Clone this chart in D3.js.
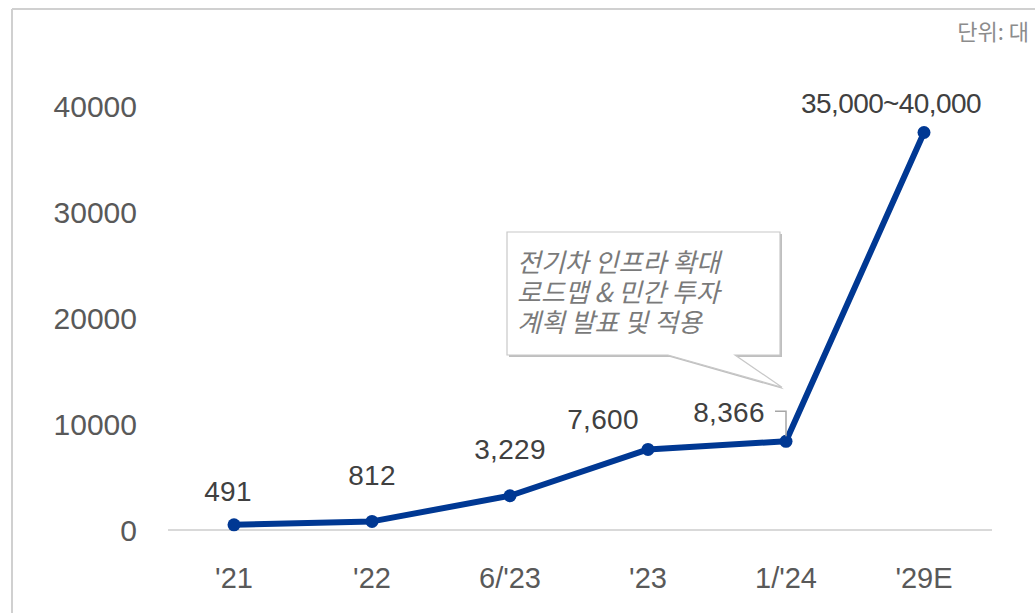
<!DOCTYPE html>
<html>
<head>
<meta charset="utf-8">
<script src="https://cdn.jsdelivr.net/npm/d3@7"></script>
<style>
  html, body { margin: 0; padding: 0; background: #fff; }
  svg { display: block; }
</style>
</head>
<body>
<svg id="chart" width="1035" height="613"></svg>
<script>
// Chart data
const categories = ["'21", "'22", "6/'23", "'23", "1/'24", "'29E"];
const values = [491, 812, 3229, 7600, 8366, 37500];
const valueLabels = ["491", "812", "3,229", "7,600", "8,366", "35,000~40,000"];
const yTicks = [0, 10000, 20000, 30000, 40000];
const unitText = "단위: 대";
const calloutLines = ["전기차 인프라 확대", "로드맵 & 민간 투자", "계획 발표 및 적용"];

// Label placement relative to each point: [dx, dy of baseline]
const labelOffsets = [[-6, -24], [0, -36], [0, -37], [-45, -20], [-57, -19], [-33, -20]];

const svg = d3.select("#chart");
const W = 1035, H = 613;
const font = "'Liberation Sans', Arial, sans-serif";
const krFont = "'Noto Sans CJK KR', 'Noto Sans', sans-serif";

const x = d3.scaleBand().domain(categories).range([165, 993]).padding(0);
const y = d3.scaleLinear().domain([0, 40000]).range([530, 106]);
const cx = c => x(c) + x.bandwidth() / 2;

// Frame lines at top and left
svg.append("line").attr("x1", 12).attr("x2", W).attr("y1", 9).attr("y2", 9)
  .attr("stroke", "#d0d0d0").attr("stroke-width", 2);
svg.append("line").attr("x1", 12).attr("x2", 12).attr("y1", 9).attr("y2", H)
  .attr("stroke", "#d0d0d0").attr("stroke-width", 2);

// Unit note
svg.append("text").attr("x", 1029).attr("y", 40).attr("text-anchor", "end")
  .attr("font-family", krFont).attr("font-size", 22).attr("fill", "#8c8c8c")
  .text(unitText);

// Y axis (labels only)
const yAxis = d3.axisLeft(y).tickValues(yTicks).tickSize(0).tickPadding(0).tickFormat(d3.format("d"));
const yg = svg.append("g").attr("transform", "translate(137,0)").call(yAxis);
yg.select(".domain").remove();
yg.selectAll("text").attr("font-family", font).attr("font-size", 30)
  .attr("fill", "#595959").attr("dy", "0.35em");

// Baseline
svg.append("line").attr("x1", 168).attr("x2", 992).attr("y1", y(0)).attr("y2", y(0))
  .attr("stroke", "#d9d9d9").attr("stroke-width", 2);

// X axis (labels only)
const xAxis = d3.axisBottom(x).tickSize(0).tickPadding(0);
const xg = svg.append("g").attr("transform", "translate(0,578)").call(xAxis);
xg.select(".domain").remove();
xg.selectAll("text").attr("font-family", font).attr("font-size", 29)
  .attr("fill", "#595959").attr("dy", "0.35em");

// Series line
const data = categories.map((c, i) => ({ c, v: values[i], label: valueLabels[i], off: labelOffsets[i] }));
const line = d3.line().x(d => cx(d.c)).y(d => y(d.v));
svg.append("path").datum(data).attr("d", line).attr("fill", "none")
  .attr("stroke", "#003893").attr("stroke-width", 6).attr("stroke-linejoin", "round");
svg.selectAll("circle.pt").data(data).join("circle").attr("class", "pt")
  .attr("cx", d => cx(d.c)).attr("cy", d => y(d.v)).attr("r", 6.5).attr("fill", "#003893");

// Leader line for the 1/'24 label
const p4 = data[4];
svg.append("polyline")
  .attr("points", [[cx(p4.c) - 11, y(p4.v) - 30], [cx(p4.c), y(p4.v) - 30], [cx(p4.c), y(p4.v) - 5]].map(p => p.join(",")).join(" "))
  .attr("fill", "none").attr("stroke", "#a6a6a6").attr("stroke-width", 1.5);

// Value labels
svg.selectAll("text.val").data(data).join("text").attr("class", "val")
  .attr("x", d => cx(d.c) + d.off[0]).attr("y", d => y(d.v) + d.off[1])
  .attr("text-anchor", "middle").attr("font-family", font).attr("font-size", 28)
  .attr("letter-spacing", d => d.label.length > 8 ? -0.6 : 0.3)
  .attr("fill", "#404040").text(d => d.label);

// Callout box with pointer toward the 1/'24 point
const bx0 = 507, by0 = 232, bx1 = 780, by1 = 355;
const tip = [cx(p4.c) - 4, y(p4.v) - 54];
const callout = [[bx0, by0], [bx1, by0], [bx1, by1], [735, by1], tip, [668, by1], [bx0, by1]];
const calloutPath = "M" + callout.map(p => p.join(",")).join("L") + "Z";
svg.append("path").attr("d", calloutPath).attr("transform", "translate(2,2)")
  .attr("fill", "#bfbfbf");
svg.append("path").attr("d", calloutPath).attr("fill", "#fff")
  .attr("stroke", "#c8c8c8").attr("stroke-width", 1.2);
svg.append("text")
  .attr("font-family", krFont).attr("font-size", 26).attr("font-style", "italic")
  .attr("fill", "#7a7a7a")
  .selectAll("tspan").data(calloutLines).join("tspan")
  .attr("x", 517).attr("y", (d, i) => 272 + i * 30)
  .text(d => d);
</script>
</body>
</html>
